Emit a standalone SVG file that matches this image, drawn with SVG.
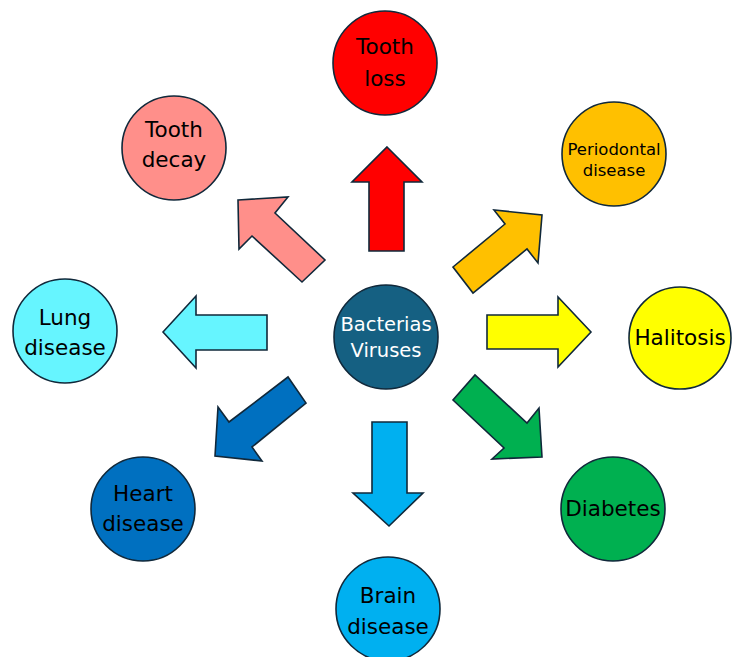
<svg xmlns="http://www.w3.org/2000/svg" width="732" height="657" viewBox="0 0 732 657">
<style>
.n{stroke:#10283a;stroke-width:1.6}
.a{stroke:#10283a;stroke-width:1.6;stroke-linejoin:miter}
text{font-family:"DejaVu Sans","Liberation Sans",Arial,sans-serif;font-size:21.5px;text-anchor:middle;fill:#000}
.w{fill:#fff;font-size:19.5px}
.s{font-size:16.5px}
</style>
<rect width="732" height="657" fill="#fff"/>
<g id="connectors">
<polygon class="a" fill="#ff0000" points="387,147 422,182 404,182 404,251 369,251 369,182 352,182"/>
<polygon class="a" fill="#ff8f8a" points="238,200 288,197 275,213 325,260 302,282 252,236 239,249"/>
<polygon class="a" fill="#ffc000" points="542,215 538,263 527,249 473,293 453,267 505,224 494,210"/>
<polygon class="a" fill="#66f5ff" points="163,332 196,296 196,315 267,315 267,350 196,350 196,368"/>
<polygon class="a" fill="#ffff00" points="591,332 558,297 558,315 487,315 487,349 558,349 558,367"/>
<polygon class="a" fill="#0070c0" points="215,456 218,407 229,422 288,377 306,403 252,447 262,461"/>
<polygon class="a" fill="#00b050" points="542,457 539,408 527,423 475,375 453,400 504,448 492,459"/>
<polygon class="a" fill="#00b0f0" points="389,526 423,493 407,493 407,422 372,422 372,493 353,493"/>
</g>
<g id="center"><circle class="n" cx="386" cy="337" r="52" fill="#156082"/><text class="w" x="386" y="331">Bacterias</text><text class="w" x="386" y="357">Viruses</text></g>
<g id="tooth-loss"><circle class="n" cx="385" cy="63" r="52" fill="#ff0000"/><text x="385" y="54">Tooth</text><text x="385" y="86">loss</text></g>
<g id="tooth-decay"><circle class="n" cx="174" cy="148" r="52" fill="#ff8f8a"/><text x="174" y="137">Tooth</text><text x="174" y="167">decay</text></g>
<g id="periodontal"><circle class="n" cx="614" cy="154" r="52" fill="#ffc000"/><text class="s" x="614" y="155">Periodontal</text><text class="s" x="614" y="176">disease</text></g>
<g id="halitosis"><circle class="n" cx="680" cy="338" r="51" fill="#ffff00"/><text x="680" y="345">Halitosis</text></g>
<g id="lung"><circle class="n" cx="65" cy="331" r="52" fill="#66f5ff"/><text x="65" y="325">Lung</text><text x="65" y="355">disease</text></g>
<g id="heart"><circle class="n" cx="143" cy="509" r="52" fill="#0070c0"/><text x="143" y="501">Heart</text><text x="143" y="531">disease</text></g>
<g id="diabetes"><circle class="n" cx="613" cy="509" r="52" fill="#00b050"/><text x="613" y="516">Diabetes</text></g>
<g id="brain"><circle class="n" cx="388" cy="609" r="52" fill="#00b0f0"/><text x="388" y="603">Brain</text><text x="388" y="634">disease</text></g>
</svg>
